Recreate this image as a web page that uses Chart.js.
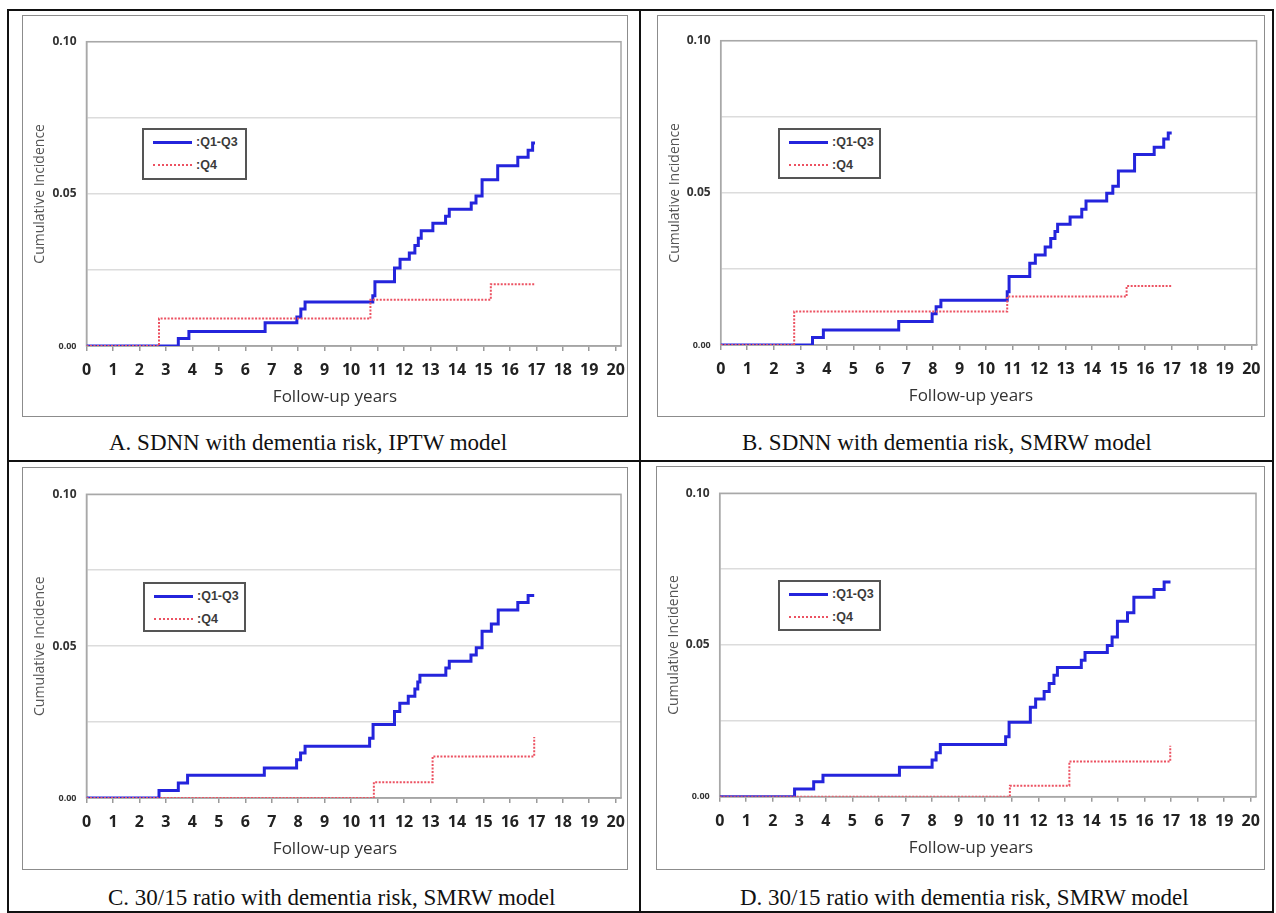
<!DOCTYPE html>
<html><head><meta charset="utf-8">
<script src="https://cdn.jsdelivr.net/npm/chart.js@4"></script>
<style>
body{margin:0;background:#fff;}
#root{position:relative;width:1276px;height:913px;overflow:hidden;background:#fff;}
.rule{position:absolute;background:#111;}
.box{position:absolute;border:1.5px solid #8c8c8c;box-sizing:border-box;}
canvas.cv{position:absolute;}
.cap{position:absolute;font-family:'Liberation Serif','Times New Roman',serif;font-size:23px;line-height:26px;color:#111;white-space:nowrap;}
.xt{position:absolute;font-family:'Open Sans',sans-serif;font-size:17px;line-height:20px;color:#333;white-space:nowrap;transform:translateX(-50%);}
.leg{position:absolute;border:2px solid #555;box-sizing:border-box;background:#fff;font:bold 12.5px 'Liberation Sans',Arial,sans-serif;color:#3a3a3a;}
.leg .s{position:absolute;left:9px;width:39px;}
.leg .t{position:absolute;left:52px;line-height:14px;}
</style></head>
<body><div id="root"></div>
<script>
// ---------- data ----------
const xTickValues = [0,1,2,3,4,5,6,7,8,9,10,11,12,13,14,15,16,17,18,19,20];
const xTickLabels = ['0','1','2','3','4','5','6','7','8','9','10','11','12','13','14','15','16','17','18','19','20'];
const yTickValues = [0, 0.025, 0.05, 0.075, 0.10];
const yTickLabels = ['0.00', '', '0.05', '', '0.10'];
const seriesNames = [':Q1-Q3', ':Q4'];
const axisTitleX = 'Follow-up years';
const axisTitleY = 'Cumulative Incidence';
const captions = [
  'A. SDNN with dementia risk, IPTW model',
  'B. SDNN with dementia risk, SMRW model',
  'C. 30/15 ratio with dementia risk, SMRW model',
  'D. 30/15 ratio with dementia risk, SMRW model'
];

// Panel A
const A_q13_years = [0, 3.47, 3.87, 6.75, 7.95, 8.10, 8.26, 10.82, 10.90, 11.64, 11.85, 12.20, 12.41, 12.54, 12.65, 13.09, 13.57, 13.71, 14.54, 14.72, 14.95, 15.54, 16.30, 16.69, 16.86, 16.95];
const A_q13_ci    = [0, 0.0025, 0.0048, 0.0076, 0.0095, 0.0122, 0.0145, 0.0165, 0.0211, 0.0256, 0.0285, 0.0306, 0.0330, 0.0354, 0.0379, 0.0403, 0.0426, 0.0449, 0.0470, 0.0493, 0.0546, 0.0592, 0.0620, 0.0643, 0.0667, 0.0667];
const A_q4_years  = [0, 2.74, 10.73, 15.28, 16.92];
const A_q4_ci     = [0, 0.0090, 0.0152, 0.0203, 0.0203];
// Panel B
const B_q13_years = [0, 3.46, 3.87, 6.71, 7.97, 8.12, 8.30, 10.80, 10.87, 11.65, 11.86, 12.23, 12.44, 12.60, 12.70, 13.17, 13.61, 13.77, 14.55, 14.78, 14.99, 15.60, 16.34, 16.70, 16.87, 17.00];
const B_q13_ci    = [0, 0.0025, 0.0049, 0.0077, 0.0103, 0.0126, 0.0147, 0.0175, 0.0225, 0.0269, 0.0296, 0.0322, 0.0350, 0.0373, 0.0397, 0.0421, 0.0446, 0.0473, 0.0499, 0.0522, 0.0572, 0.0626, 0.0650, 0.0677, 0.0697, 0.0697];
const B_q4_years  = [0, 2.77, 10.80, 15.30, 17.00];
const B_q4_ci     = [0, 0.0110, 0.0159, 0.0194, 0.0194];
// Panel C
const C_q13_years = [0, 2.74, 3.47, 3.82, 6.72, 7.94, 8.09, 8.26, 10.70, 10.83, 11.64, 11.84, 12.16, 12.41, 12.52, 12.60, 13.58, 13.71, 14.53, 14.73, 14.95, 15.30, 15.56, 16.30, 16.69, 16.92];
const C_q13_ci    = [0, 0.0025, 0.0049, 0.0075, 0.0099, 0.0126, 0.0148, 0.0170, 0.0197, 0.0242, 0.0285, 0.0312, 0.0335, 0.0359, 0.0382, 0.0404, 0.0428, 0.0450, 0.0471, 0.0495, 0.0549, 0.0573, 0.0619, 0.0644, 0.0667, 0.0667];
const C_q4_years  = [0, 10.86, 13.08, 16.92];
const C_q4_ci     = [0, 0.0052, 0.0137, 0.0201];
// Panel D
const D_q13_years = [0, 2.82, 3.54, 3.89, 6.77, 8.00, 8.15, 8.31, 10.77, 10.90, 11.70, 11.90, 12.22, 12.41, 12.59, 12.72, 13.62, 13.76, 14.60, 14.78, 14.98, 15.36, 15.60, 16.36, 16.74, 16.98];
const D_q13_ci    = [0, 0.0025, 0.0049, 0.0071, 0.0097, 0.0121, 0.0145, 0.0172, 0.0198, 0.0245, 0.0295, 0.0322, 0.0347, 0.0373, 0.0400, 0.0426, 0.0450, 0.0475, 0.0498, 0.0526, 0.0578, 0.0606, 0.0657, 0.0683, 0.0708, 0.0708];
const D_q4_years  = [0, 10.93, 13.17, 16.97];
const D_q4_ci     = [0, 0.0036, 0.0116, 0.0168];

// ---------- layout (positions only) ----------
const LAYOUT = [
  {box:{l:22,t:15,w:606,h:402},  plot:{l:86.5,r:621,t:41.7,b:346},  leg:{l:142,t:128,w:105,h:52}, cap:{l:109,t:430}, xt:{cx:335}},
  {box:{l:657,t:15,w:608,h:402}, plot:{l:720.7,r:1256.6,t:40.7,b:345}, leg:{l:778,t:128,w:103,h:51}, cap:{l:742,t:430}, xt:{cx:971}},
  {box:{l:22,t:467,w:606,h:403}, plot:{l:86.5,r:621,t:494.3,b:798}, leg:{l:143,t:582,w:103,h:50}, cap:{l:108,t:885}, xt:{cx:335}},
  {box:{l:656,t:466,w:609,h:404},plot:{l:719.7,r:1256,t:493.3,b:796.7}, leg:{l:778,t:580,w:103,h:51}, cap:{l:740,t:885}, xt:{cx:971}}
];
const PANELS = [
  [A_q13_years, A_q13_ci, A_q4_years, A_q4_ci],
  [B_q13_years, B_q13_ci, B_q4_years, B_q4_ci],
  [C_q13_years, C_q13_ci, C_q4_years, C_q4_ci],
  [D_q13_years, D_q13_ci, D_q4_years, D_q4_ci]
];
const BLUE = '#2424dc';
const RED = '#ec5262';

const root = document.getElementById('root');
function div(cls, css, html){ const d=document.createElement('div'); d.className=cls; Object.assign(d.style, css); if(html!==undefined) d.textContent=html; root.appendChild(d); return d; }

// table rules
[[7,9,1267,2],[7,9,2,904],[1272,9,2,904],[639,9,2,904],[7,460,1267,2],[7,911,1267,2]].forEach(r=>{
  div('rule',{left:r[0]+'px',top:r[1]+'px',width:r[2]+'px',height:r[3]+'px'});
});

const framePlugin = {
  id:'frame',
  beforeDatasetsDraw(chart){
    const {ctx, chartArea:a} = chart;
    ctx.save(); ctx.strokeStyle='#a8a8a8'; ctx.lineWidth=1.5;
    ctx.strokeRect(a.left, a.top, a.right-a.left, a.bottom-a.top);
    ctx.restore();
  }
};

LAYOUT.forEach((g, pi) => {
  const [bt, bc, rt, rc] = PANELS[pi];
  div('box',{left:g.box.l+'px',top:g.box.t+'px',width:g.box.w+'px',height:g.box.h+'px'});
  const cv = document.createElement('canvas');
  cv.className='cv'; cv.width=g.box.w; cv.height=g.box.h;
  cv.style.left=g.box.l+'px'; cv.style.top=g.box.t+'px';
  root.appendChild(cv);
  const yW = g.plot.l - g.box.l;
  const xH = 60;
  const padTop = g.plot.t - g.box.t;
  const padRight = g.box.l + g.box.w - g.plot.r;
  const padBottom = g.box.t + g.box.h - g.plot.b - xH;
  new Chart(cv, {
    type:'line',
    data:{ datasets:[
      {label:seriesNames[1], data:rt.map((t,i)=>({x:t,y:rc[i]})), borderColor:RED, borderWidth:2, borderDash:[2,1.5], stepped:true, pointRadius:0, fill:false},
      {label:seriesNames[0], data:bt.map((t,i)=>({x:t,y:bc[i]})), borderColor:BLUE, borderWidth:3, stepped:true, pointRadius:0, fill:false}
    ]},
    options:{
      responsive:false, animation:false, events:[],
      layout:{padding:{left:0, top:padTop, right:padRight, bottom:padBottom}},
      plugins:{legend:{display:false}, tooltip:{enabled:false}},
      scales:{
        x:{type:'linear', min:0, max:20.2,
          afterBuildTicks:s=>{ s.ticks = xTickValues.map(v=>({value:v})); },
          afterFit:s=>{ s.height = xH; s.paddingLeft = 0; s.paddingRight = 0; },
          ticks:{autoSkip:false, maxRotation:0, padding:10, color:'#222',
            font:{family:'Open Sans', weight:'bold', size:16},
            callback:(v,i)=>xTickLabels[i]},
          grid:{drawOnChartArea:false, drawTicks:true, tickLength:5, color:'#9a9a9a', lineWidth:1.5},
          border:{display:true, color:'#9a9a9a', width:1.5},
          title:{display:false}
        },
        y:{type:'linear', min:0, max:0.1,
          afterBuildTicks:s=>{ s.ticks = yTickValues.map(v=>({value:v})); },
          afterFit:s=>{ s.width = yW; s.paddingTop = 0; s.paddingBottom = 0; },
          ticks:{autoSkip:false, padding:10, color:'#333',
            font:c=>({family:'Open Sans', weight:'bold', size: c.index===0 ? 9 : 12}),
            callback:(v,i)=>yTickLabels[i]},
          grid:{drawTicks:false, tickLength:0, color:'#dcdcdc', lineWidth:1.5},
          border:{display:true, color:'#a8a8a8', width:1.5},
          title:{display:true, text:axisTitleY, color:'#555', font:{family:'Open Sans', size:14}, padding:{top:10,bottom:0}}
        }
      }
    },
    plugins:[framePlugin]
  });
  // x-axis title
  div('xt',{left:g.xt.cx+'px',top:(g.plot.b+40)+'px'}, axisTitleX);
  // legend
  const lg = div('leg',{left:g.leg.l+'px',top:g.leg.t+'px',width:g.leg.w+'px',height:g.leg.h+'px'});
  const s1=document.createElement('div'); s1.className='s'; Object.assign(s1.style,{top:'11px',height:'3px',background:BLUE}); lg.appendChild(s1);
  const t1=document.createElement('div'); t1.className='t'; t1.style.top='5px'; t1.textContent=seriesNames[0]; lg.appendChild(t1);
  const s2=document.createElement('div'); s2.className='s'; Object.assign(s2.style,{top:'34px',height:'0',borderTop:'2px dotted '+RED}); lg.appendChild(s2);
  const t2=document.createElement('div'); t2.className='t'; t2.style.top='28px'; t2.textContent=seriesNames[1]; lg.appendChild(t2);
  // caption
  div('cap',{left:g.cap.l+'px',top:g.cap.t+'px'}, captions[pi]);
});
</script>
</body></html>
